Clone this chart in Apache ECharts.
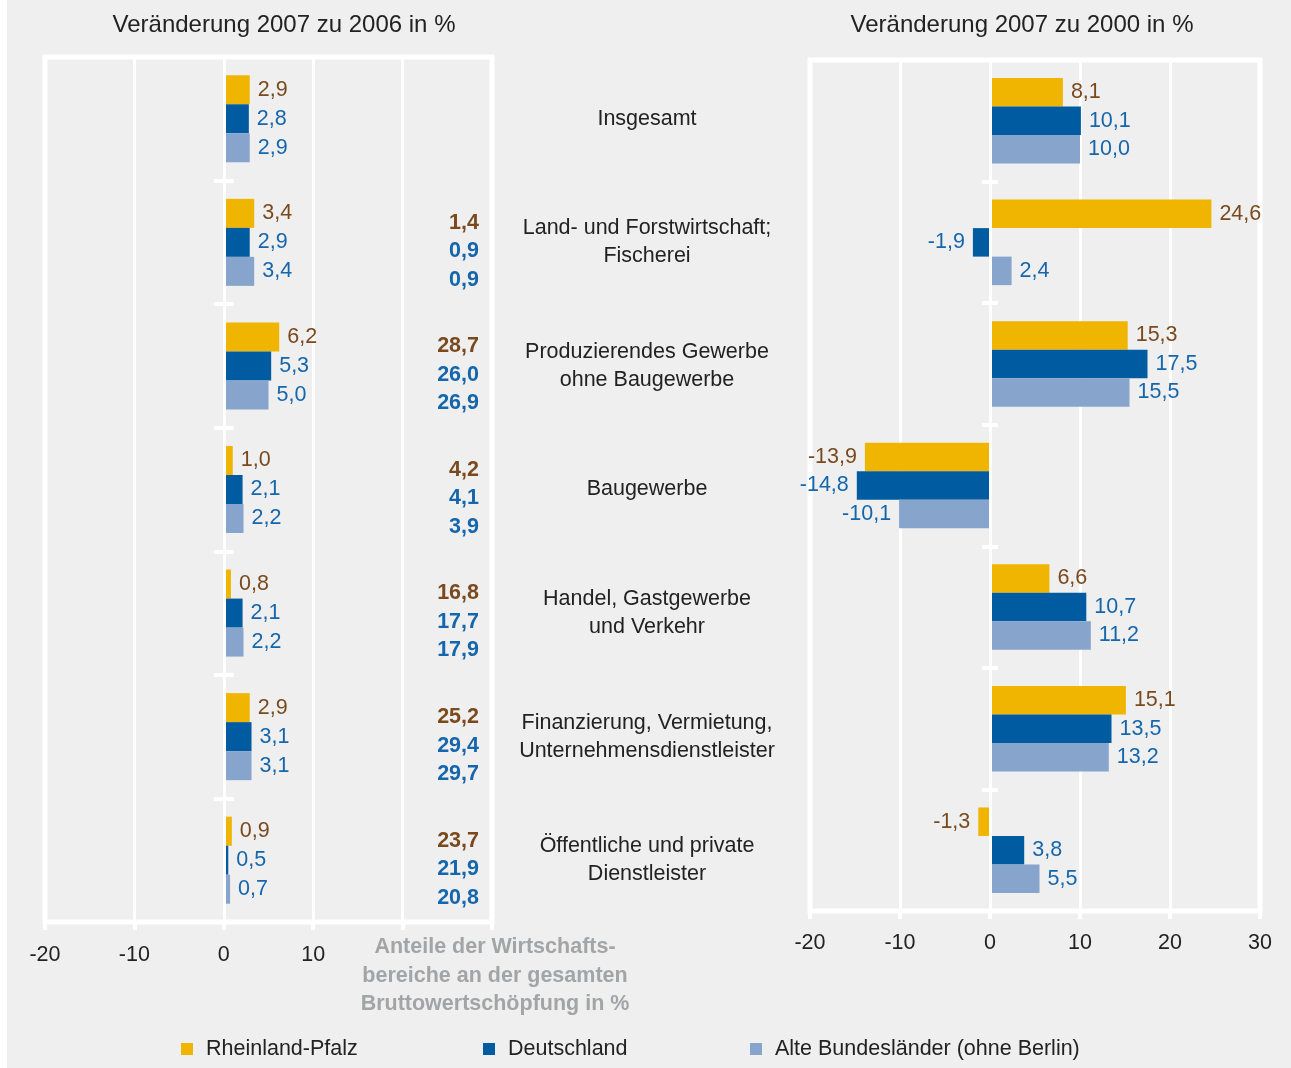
<!DOCTYPE html>
<html>
<head>
<meta charset="utf-8">
<title>Bruttowertschöpfung nach Wirtschaftsbereichen</title>
<script src="https://cdn.jsdelivr.net/npm/echarts@6/dist/echarts.min.js"></script>
<style>
  html, body { margin: 0; padding: 0; background: #fff; }
  #main {
    width: 1291px;
    height: 1068px;
    background: linear-gradient(to right, #fff 7px, #eeefee 7px);
  }
</style>
</head>
<body>
<div id="main"></div>
<script>
// Wirtschaftsbereiche
const categories = [
  'Insgesamt',
  'Land- und Forstwirtschaft;\nFischerei',
  'Produzierendes Gewerbe\nohne Baugewerbe',
  'Baugewerbe',
  'Handel, Gastgewerbe\nund Verkehr',
  'Finanzierung, Vermietung,\nUnternehmensdienstleister',
  'Öffentliche und private\nDienstleister'
]
const seriesNames = ['Rheinland-Pfalz', 'Deutschland', 'Alte Bundesländer (ohne Berlin)']

// Veränderung 2007 zu 2006 in %
const rpChange06 = [2.9, 3.4, 6.2, 1.0, 0.8, 2.9, 0.9]
const deChange06 = [2.8, 2.9, 5.3, 2.1, 2.1, 3.1, 0.5]
const abChange06 = [2.9, 3.4, 5.0, 2.2, 2.2, 3.1, 0.7]

// Veränderung 2007 zu 2000 in %
const rpChange00 = [8.1, 24.6, 15.3, -13.9, 6.6, 15.1, -1.3]
const deChange00 = [10.1, -1.9, 17.5, -14.8, 10.7, 13.5, 3.8]
const abChange00 = [10.0, 2.4, 15.5, -10.1, 11.2, 13.2, 5.5]

// Anteile an der gesamten Bruttowertschöpfung in %
const rpShare = [null, 1.4, 28.7, 4.2, 16.8, 25.2, 23.7]
const deShare = [null, 0.9, 26.0, 4.1, 17.7, 29.4, 21.9]
const abShare = [null, 0.9, 26.9, 3.9, 17.9, 29.7, 20.8]

// Achse
const axisMin = -20
const axisMax = 30
const axisStep = 10

const FONT = "'Liberation Sans', Arial, sans-serif"
const COLORS = ['#f0b500', '#005ba1', '#87a4cc']
const LABEL_COLORS = ['#7a4a1e', '#1566ac', '#1566ac']
const fmt = v => v.toFixed(1).replace('.', ',')

const chart = echarts.init(document.getElementById('main'))

const xAxisBase = (gridIndex, labelMargin, maxLabel) => ({
  type: 'value',
  gridIndex,
  min: axisMin,
  max: axisMax,
  interval: axisStep,
  axisLine: { show: true, lineStyle: { color: '#fff', width: 4 } },
  axisTick: { show: true, length: 8, lineStyle: { color: '#fff', width: 4 } },
  splitLine: { show: true, lineStyle: { color: '#fff', width: 3 } },
  axisLabel: {
    color: '#222',
    fontSize: 21.5,
    fontFamily: FONT,
    margin: labelMargin,
    formatter: v => (v > maxLabel ? '' : String(v))
  }
})

// Kategorieachse auf der Nulllinie (Striche links bzw. rechts)
const zeroAxis = (gridIndex, position, xIndex, tickLen) => ({
  type: 'category',
  gridIndex,
  position,
  inverse: true,
  data: categories,
  z: 3,
  axisLine: { show: true, onZero: true, onZeroAxisIndex: xIndex, lineStyle: { color: '#fff', width: 3 } },
  axisTick: { show: true, length: tickLen, lineStyle: { color: '#fff', width: 4 } },
  axisLabel: { show: false },
  splitLine: { show: false }
})

const makeBars = (values, idx, xAxisIndex, yAxisIndex, barWidth) => ({
  name: seriesNames[idx],
  type: 'bar',
  xAxisIndex,
  yAxisIndex,
  barWidth,
  barGap: '0%',
  itemStyle: { color: COLORS[idx] },
  label: {
    show: true,
    distance: 8,
    color: LABEL_COLORS[idx],
    fontSize: 21.5,
    fontFamily: FONT,
    formatter: p => fmt(p.value)
  },
  data: values.map(v => ({ value: v, label: { position: v < 0 ? 'left' : 'right' } }))
})

const legendAt = (left, idx) => ({
  left,
  top: 1032,
  icon: 'rect',
  itemWidth: 12,
  itemHeight: 12,
  selectedMode: false,
  data: [seriesNames[idx]],
  textStyle: { color: '#222', fontSize: 21.5, fontFamily: FONT, lineHeight: 24, padding: [0, 0, 0, 8] }
})

chart.setOption({
  animation: false,
  textStyle: { fontFamily: FONT },
  color: COLORS,
  grid: [
    { left: 45, top: 57, width: 447, height: 865, show: true, borderColor: '#fff', borderWidth: 5, backgroundColor: 'transparent' },
    { left: 810, top: 60, width: 450, height: 851, show: true, borderColor: '#fff', borderWidth: 5, backgroundColor: 'transparent' }
  ],
  xAxis: [xAxisBase(0, 22, 10), xAxisBase(1, 21, 30)],
  yAxis: [
    zeroAxis(0, 'left', 0, 10),
    zeroAxis(0, 'right', 0, 10),
    // Anteile (rechts im linken Diagramm)
    {
      type: 'category',
      gridIndex: 0,
      inverse: true,
      position: 'right',
      data: categories,
      axisLine: { show: false, onZero: false },
      axisTick: { show: false },
      axisLabel: {
        inside: true,
        margin: 13,
        align: 'right',
        padding: [18, 0, 0, 0],
        formatter: (v, i) => {
          if (rpShare[i] == null) return ''
          return `{a|${fmt(rpShare[i])}}\n{b|${fmt(deShare[i])}}\n{b|${fmt(abShare[i])}}`
        },
        rich: {
          a: { color: LABEL_COLORS[0], fontWeight: 'bold', fontSize: 21.5, fontFamily: FONT, lineHeight: 28.5 },
          b: { color: LABEL_COLORS[1], fontWeight: 'bold', fontSize: 21.5, fontFamily: FONT, lineHeight: 28.5 }
        }
      }
    },
    // Bereichsnamen in der Mitte
    {
      type: 'category',
      gridIndex: 0,
      inverse: true,
      position: 'right',
      data: categories,
      axisLine: { show: false, onZero: false },
      axisTick: { show: false },
      axisLabel: {
        margin: 155,
        align: 'center',
        color: '#222',
        fontSize: 21.5,
        fontFamily: FONT,
        lineHeight: 28
      }
    },
    zeroAxis(1, 'left', 1, 8),
    zeroAxis(1, 'right', 1, 8)
  ],
  legend: [legendAt(176, 0), legendAt(478, 1), legendAt(745, 2)],
  graphic: [
    {
      type: 'text', x: 284, y: 25,
      style: { text: 'Veränderung 2007 zu 2006 in %', fill: '#222', font: `24px ${FONT}`, textAlign: 'center', textVerticalAlign: 'middle' }
    },
    {
      type: 'text', x: 1022, y: 25,
      style: { text: 'Veränderung 2007 zu 2000 in %', fill: '#222', font: `24px ${FONT}`, textAlign: 'center', textVerticalAlign: 'middle' }
    },
    {
      type: 'text', x: 495, y: 976,
      style: {
        text: 'Anteile der Wirtschafts-\nbereiche an der gesamten\nBruttowertschöpfung in %',
        fill: '#a2a5a8', font: `bold 21.5px ${FONT}`, lineHeight: 28.5,
        textAlign: 'center', textVerticalAlign: 'middle'
      }
    }
  ],
  series: [
    makeBars(rpChange06, 0, 0, 0, 29),
    makeBars(deChange06, 1, 0, 0, 29),
    makeBars(abChange06, 2, 0, 0, 29),
    makeBars(rpChange00, 0, 1, 4, 28.5),
    makeBars(deChange00, 1, 1, 4, 28.5),
    makeBars(abChange00, 2, 1, 4, 28.5)
  ]
})

window.addEventListener('resize', () => chart.resize())
</script>
</body>
</html>
